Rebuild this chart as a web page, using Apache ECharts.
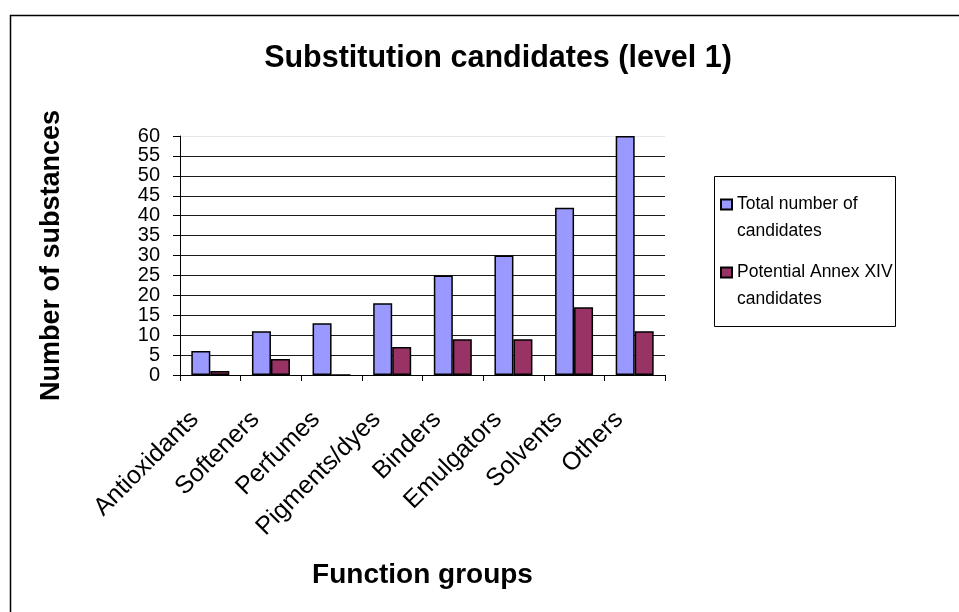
<!DOCTYPE html>
<html>
<head>
<meta charset="utf-8">
<script src="https://cdn.jsdelivr.net/npm/echarts@6/dist/echarts.min.js"></script>
<style>html,body{margin:0;padding:0;background:#fff;}#c{width:959px;height:612px;}</style>
</head>
<body>
<div id="c"></div>
<script>
var categories = ['Antioxidants','Softeners','Perfumes','Pigments/dyes','Binders','Emulgators','Solvents','Others'];
var totalCandidates = [6, 11, 13, 18, 25, 30, 42, 60];
var annexCandidates = [1, 4, 0, 7, 9, 9, 17, 11];
var yTicks = [0, 5, 10, 15, 20, 25, 30, 35, 40, 45, 50, 55, 60];
var seriesNames = ['Total number of\ncandidates', 'Potential Annex XIV\ncandidates'];

var FONT = 'Liberation Sans, Arial, sans-serif';
var gridColors = yTicks.map(function (v, i) { return i === yTicks.length - 1 ? '#e6e6e6' : '#1a1a1a'; });

var chart = echarts.init(document.getElementById('c'));
chart.setOption({
  animation: false,
  backgroundColor: '#fff',
  textStyle: { fontFamily: FONT },
  graphic: [{
    type: 'rect', shape: { x: 10.5, y: 15.5, width: 1000, height: 1000 },
    style: { fill: 'none', stroke: '#000', lineWidth: 1.5 }, silent: true, z: -1
  }, {
    type: 'rect', shape: { x: 714.5, y: 176.5, width: 181, height: 150 },
    style: { fill: 'none', stroke: '#000', lineWidth: 1 }, silent: true, z: -1
  }],
  title: {
    text: 'Substitution candidates (level 1)',
    left: 493, top: 38, textAlign: 'center',
    textStyle: { fontFamily: FONT, fontSize: 30.5, fontWeight: 'bold', color: '#000' }
  },
  legend: {
    orient: 'vertical', left: 720, top: 164,
    padding: 0,
    icon: 'rect',
    itemWidth: 11, itemHeight: 10, itemGap: -13,
    textStyle: { fontFamily: FONT, fontSize: 17.5, color: '#000', lineHeight: 27 },
    formatter: function (n) { return '\n' + n; },
    data: seriesNames
  },
  grid: { left: 180, right: 294, top: 136, bottom: 237 },
  xAxis: {
    type: 'category', data: categories,
    name: 'Function groups', nameLocation: 'middle', nameGap: 186,
    nameTextStyle: { fontFamily: FONT, fontSize: 28, fontWeight: 'bold', color: '#000' },
    axisLine: { lineStyle: { color: '#000', width: 1 } },
    axisTick: { show: true, length: 6, lineStyle: { color: '#000' } },
    axisLabel: { rotate: 45, fontFamily: FONT, fontSize: 25, color: '#000', margin: 25, padding: [0, 22, 0, 0], interval: 0 }
  },
  yAxis: {
    type: 'value', min: 0, max: 60, interval: 5,
    name: 'Number of substances', nameLocation: 'middle', nameGap: 115,
    nameTextStyle: { fontFamily: FONT, fontSize: 27, fontWeight: 'bold', color: '#000' },
    axisLine: { show: true, lineStyle: { color: '#000', width: 1 } },
    axisTick: { show: true, length: 7, lineStyle: { color: '#000' } },
    axisLabel: { fontFamily: FONT, fontSize: 20, lineHeight: 18, color: '#000', margin: 20, showMinLabel: true, showMaxLabel: true },
    splitLine: { show: true, lineStyle: { color: gridColors, width: 1 } }
  },
  series: [{
    name: seriesNames[0], type: 'bar', data: totalCandidates,
    barWidth: 19, barGap: '0%',
    itemStyle: { color: '#9999FF', borderColor: '#000', borderWidth: 1.5 }
  }, {
    name: seriesNames[1], type: 'bar', data: annexCandidates,
    barWidth: 19, barGap: '0%',
    itemStyle: { color: '#993366', borderColor: '#000', borderWidth: 1.5 }
  }]
});
</script>
</body>
</html>
